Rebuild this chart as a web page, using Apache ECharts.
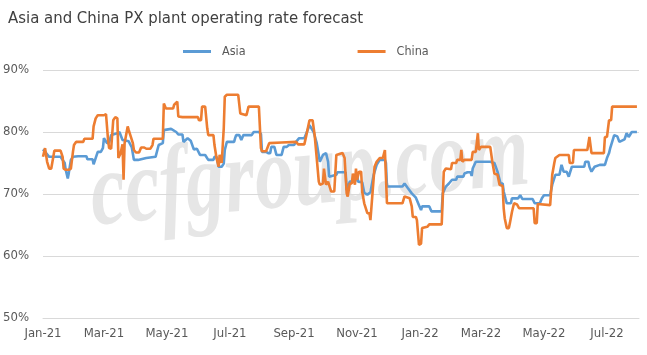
<!DOCTYPE html>
<html><head><meta charset="utf-8">
<script src="https://cdn.jsdelivr.net/npm/echarts@6/dist/echarts.min.js"></script>
<style>html,body{margin:0;padding:0;background:#fff}#c{width:647px;height:355px}</style>
</head><body><div id="c"></div>
<script>
const chartTitle = 'Asia and China PX plant operating rate forecast';
const seriesNames = ['Asia', 'China'];
const watermark = 'ccfgroup.com';
const tickLabels = ['Jan-21','Mar-21','May-21','Jul-21','Sep-21','Nov-21','Jan-22','Mar-22','May-22','Jul-22'];
const tickMonths = [[2021,0],[2021,2],[2021,4],[2021,6],[2021,8],[2021,10],[2022,0],[2022,2],[2022,4],[2022,6]];
const yTicks = [50, 60, 70, 80, 90];

// days counted from 1 Jan 2021
const asiaDay = [0,3,6,17,21,22,24,25,27,29,34,42,43,48,49,51,53,56,58,59,62,64,66,72,74,77,83,86,88,92,100,109,112,116,117,124,129,131,135,136,140,143,146,149,152,157,160,165,166,168,170,173,175,176,178,185,186,187,190,192,194,202,204,209,211,212,216,218,220,221,224,226,231,233,236,238,243,245,248,253,255,258,262,265,268,271,274,276,277,284,285,293,294,297,302,304,305,309,311,314,317,320,323,326,331,332,333,348,350,353,357,361,364,366,367,374,376,386,387,390,393,396,400,401,407,408,411,414,415,416,419,433,437,440,443,445,446,447,449,453,454,460,462,464,474,476,481,483,485,491,493,496,500,502,504,507,509,512,524,525,528,529,531,534,539,544,546,548,549,553,556,558,563,565,567,570,575];
const asiaVal = [77.2,76.6,76.0,76.0,75.0,73.9,72.5,73.4,75.5,76.0,76.1,76.1,75.6,75.6,74.8,75.8,76.8,76.8,77.4,79.0,78.2,78.3,79.5,79.8,80.0,78.7,78.5,77.5,75.5,75.5,75.8,76.0,77.9,78.2,80.3,80.5,80.0,79.6,79.6,78.4,79.0,78.6,77.2,77.3,76.3,76.3,75.5,75.5,76.0,76.0,74.4,74.4,74.9,77.1,78.4,78.4,79.0,79.5,79.5,78.7,79.5,79.5,80.0,80.0,79.7,76.8,76.8,76.6,76.6,77.6,77.6,76.3,76.3,77.6,77.6,77.9,77.9,78.4,79.0,79.0,79.8,81.1,80.0,78.2,75.2,76.3,76.6,75.2,72.8,73.1,73.5,73.5,70.6,72.0,72.0,73.5,72.0,71.9,70.2,69.9,70.3,73.0,74.7,75.5,75.5,75.0,71.2,71.2,71.7,71.0,70.1,69.4,68.2,67.4,68.0,68.0,67.2,67.2,70.1,71.2,71.7,72.3,72.3,72.8,72.8,73.3,73.5,73.5,72.9,74.1,75.2,75.2,75.0,73.6,71.7,71.7,70.4,70.4,68.5,68.5,69.3,69.3,69.8,69.2,69.2,68.5,68.5,69.3,69.8,69.8,71.5,73.1,73.1,74.7,73.6,73.6,72.8,74.4,74.4,75.2,75.2,74.4,73.6,74.4,74.7,74.7,75.8,76.6,77.3,79.5,79.3,78.4,78.8,79.8,79.2,80.0,80.0];

const chinaDay = [0,2,4,6,8,10,11,17,19,20,22,25,27,29,30,32,39,40,48,49,51,53,59,61,63,64,66,68,70,72,73,75,77,78,79,82,83,87,88,90,93,95,98,100,104,106,107,116,117,119,126,127,130,131,135,150,151,153,154,157,159,160,165,166,168,170,171,173,175,176,178,189,190,191,192,197,199,209,211,212,216,219,231,245,247,253,255,258,261,263,265,267,268,271,272,274,276,279,282,284,285,290,292,294,295,297,299,300,302,303,304,306,308,309,311,314,316,317,319,321,323,326,329,331,332,333,348,350,355,357,358,361,362,364,366,367,372,374,386,387,388,390,395,396,400,401,404,405,406,408,415,416,419,420,421,422,424,433,435,437,440,442,445,446,447,449,451,452,454,456,459,461,475,476,478,479,480,491,493,495,496,500,509,510,513,514,527,529,530,531,543,544,546,548,550,551,575];
const chinaVal = [76.0,77.4,75.2,74.1,74.1,76.0,77.0,77.0,76.0,74.1,73.9,73.9,74.1,76.8,77.9,78.4,78.4,78.9,78.9,80.9,82.2,82.7,82.7,82.9,78.7,77.4,77.3,81.9,82.4,82.2,75.8,76.5,78.0,72.3,78.2,80.9,80.3,78.2,77.1,76.7,76.7,77.5,77.5,77.3,77.3,77.9,78.9,78.9,84.6,83.8,83.8,84.4,84.9,82.5,82.4,82.4,81.9,81.9,84.1,84.1,80.6,79.5,79.5,77.9,75.8,74.4,76.3,75.0,80.6,85.7,86.0,86.0,86.2,83.0,82.7,82.7,84.1,84.1,77.4,76.9,76.9,78.2,78.3,78.4,78.0,78.0,79.5,81.9,81.9,79.5,75.8,72.0,71.5,71.7,74.1,71.5,72.0,70.4,70.4,76.3,76.6,76.6,75.8,70.1,69.6,71.7,71.7,73.3,71.5,74.1,72.3,73.6,73.6,70.4,68.5,66.9,66.9,65.8,70.1,74.4,75.2,75.8,75.8,77.1,77.1,68.5,68.5,69.6,69.3,68.0,66.3,66.3,65.8,61.8,62.0,64.5,64.7,65.1,65.1,69.3,73.6,74.1,74.0,75.0,75.0,75.5,75.5,77.1,75.2,75.5,75.5,76.8,76.8,77.1,79.8,77.1,77.6,77.6,75.2,73.3,73.1,71.5,71.3,67.7,66.1,64.5,64.5,65.3,67.1,68.5,68.3,67.7,67.7,65.3,65.3,68.4,68.5,68.2,73.1,75.0,75.8,76.3,76.3,75.0,75.0,77.1,77.1,79.2,79.2,76.6,76.6,79.2,79.2,81.9,81.9,84.1,84.1];

function dayTime(d) { return new Date(2021, 0, 1 + d).getTime(); }
function pairs(days, vals) { return days.map((d, i) => [dayTime(d), vals[i]]); }

const tickTimes = tickMonths.map(m => new Date(m[0], m[1], 1).getTime());
const tickMap = {};
tickTimes.forEach((t, i) => { tickMap[t] = tickLabels[i]; });

const FONT = '"DejaVu Sans Condensed",sans-serif';
const chart = echarts.init(document.getElementById('c'), null, {renderer: 'canvas'});
chart.setOption({
  animation: false,
  backgroundColor: '#ffffff',
  title: {
    text: chartTitle, left: 3, top: 5,
    textStyle: {fontFamily: FONT, fontSize: 16.6, fontWeight: 'normal', color: '#404040'}
  },
  legend: {
    data: seriesNames, left: 178, top: 40, itemGap: 112,
    itemWidth: 28, itemHeight: 3, icon: 'rect',
    textStyle: {fontFamily: FONT, fontSize: 12.5, color: '#595959', padding: [0, 0, 0, 6]}
  },
  graphic: [{
    type: 'text', x: 96, y: 250, rotation: 0.095, scaleY: 1.35, z: -10, silent: true,
    style: {text: watermark, font: 'italic bold 78px "Liberation Serif","DejaVu Serif",serif', fill: '#e6e6e6', textVerticalAlign: 'bottom'}
  }],
  grid: {left: 42, right: 8, top: 70, bottom: 37},
  xAxis: {
    type: 'value',
    min: dayTime(0), max: new Date(2022, 7, 1).getTime(),
    axisLine: {show: true, lineStyle: {color: '#d9d9d9'}},
    axisTick: {show: false},
    splitLine: {show: false},
    axisLabel: {
      customValues: tickTimes,
      formatter: v => tickMap[v] || '',
      fontFamily: FONT, fontSize: 13, color: '#595959', margin: 9, hideOverlap: false
    }
  },
  yAxis: {
    type: 'value', min: 50, max: 90, interval: 10,
    axisLine: {show: false}, axisTick: {show: false},
    splitLine: {lineStyle: {color: '#d9d9d9', width: 1}},
    axisLabel: {formatter: '{value}%', fontFamily: FONT, fontSize: 13, color: '#595959', margin: 14}
  },
  series: [
    {name: seriesNames[0], type: 'line', data: pairs(asiaDay, asiaVal), showSymbol: false, symbol: 'none',
     lineStyle: {color: '#5B9BD5', width: 2.6}, itemStyle: {color: '#5B9BD5'}, z: 3},
    {name: seriesNames[1], type: 'line', data: pairs(chinaDay, chinaVal), showSymbol: false, symbol: 'none',
     lineStyle: {color: '#ED7D31', width: 2.6}, itemStyle: {color: '#ED7D31'}, z: 4}
  ]
});
</script></body></html>
